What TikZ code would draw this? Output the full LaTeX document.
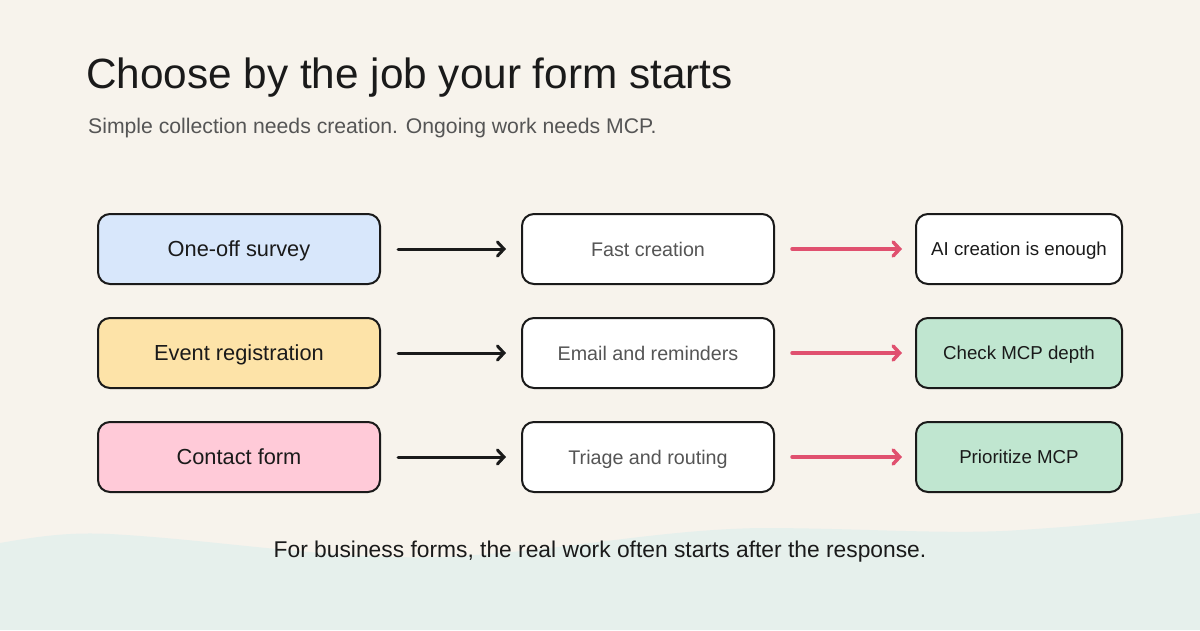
\documentclass[tikz,border=0pt]{standalone}
\usepackage{fontspec}
\setmainfont{Liberation Sans}
\usetikzlibrary{arrows.meta}
\definecolor{bg}{HTML}{F7F3EC}
\definecolor{wave}{HTML}{E6F0EC}
\definecolor{ink}{HTML}{1A1A1A}
\definecolor{greyink}{HTML}{555555}
\definecolor{fblue}{HTML}{D8E7FB}
\definecolor{fyellow}{HTML}{FDE3A8}
\definecolor{fpink}{HTML}{FFCAD8}
\definecolor{fgreen}{HTML}{C0E6D0}
\definecolor{rose}{HTML}{E0506F}
\tikzset{
  box/.style={draw=ink, line width=2pt, rounded corners=12pt, minimum height=70pt, inner sep=0pt, text depth=0pt},
  leftbox/.style={box, minimum width=282pt, text=ink, font=\fontsize{21.8}{24}\selectfont, text height=15.6pt},
  midbox/.style={box, minimum width=252pt, fill=white, text=greyink, font=\fontsize{19.7}{22}\selectfont, text height=14.1pt},
  rightbox/.style={box, minimum width=206pt, text=ink, font=\fontsize{18.7}{21}\selectfont, text height=13.4pt},
  blackarrow/.style={draw=ink, line width=3pt, line cap=round, -{Straight Barb[length=6.5pt,width=14pt,line cap=round]}},
  rosearrow/.style={draw=rose, line width=3.5pt, line cap=round, -{Straight Barb[length=6.5pt,width=14pt,line cap=round]}},
}
\begin{document}
\begin{tikzpicture}[x=1pt,y=-1pt]
\useasboundingbox (0,0) rectangle (1200,630);
\fill[bg] (0,0) rectangle (1200,630);
\fill[wave] (0,543) .. controls (40,536) and (70,532) .. (110,534)
  .. controls (220,540) and (330,560) .. (440,557)
  .. controls (560,552) and (650,530) .. (760,528)
  .. controls (860,528) and (950,535) .. (1020,530)
  .. controls (1100,525) and (1160,518) .. (1200,513)
  -- (1200,630) -- (0,630) -- cycle;
\node[anchor=base west, text=ink, inner sep=0pt, font=\fontsize{42.3}{48}\selectfont] (title) at (86,88) {Choose by the job your form starts};
\node[anchor=base west, text=greyink, inner sep=0pt, font=\fontsize{21.2}{24}\selectfont] (sub) at (88,133) {Simple collection needs creation. Ongoing work needs MCP.};

\node[leftbox, fill=fblue] (l1) at (239,249) {One-off survey};
\node[leftbox, fill=fyellow] (l2) at (239,353) {Event registration};
\node[leftbox, fill=fpink] (l3) at (239,457) {Contact form};

\node[midbox] (m1) at (648,249) {Fast creation};
\node[midbox] (m2) at (648,353) {Email and reminders};
\node[midbox] (m3) at (648,457) {Triage and routing};

\node[rightbox, fill=white] (r1) at (1019,249) {AI creation is enough};
\node[rightbox, fill=fgreen] (r2) at (1019,353) {Check MCP depth};
\node[rightbox, fill=fgreen] (r3) at (1019,457) {Prioritize MCP};

\foreach \i in {1,2,3}{
  \draw[blackarrow] ([xshift=17pt]l\i.east) -- ([xshift=-15pt]m\i.west);
  \draw[rosearrow] ([xshift=17pt]m\i.east) -- ([xshift=-13pt]r\i.west);
}

\node[anchor=base, text=ink, inner sep=0pt, font=\fontsize{22.8}{26}\selectfont] (foot) at (600,557) {For business forms, the real work often starts after the response.};
\end{tikzpicture}
\end{document}
